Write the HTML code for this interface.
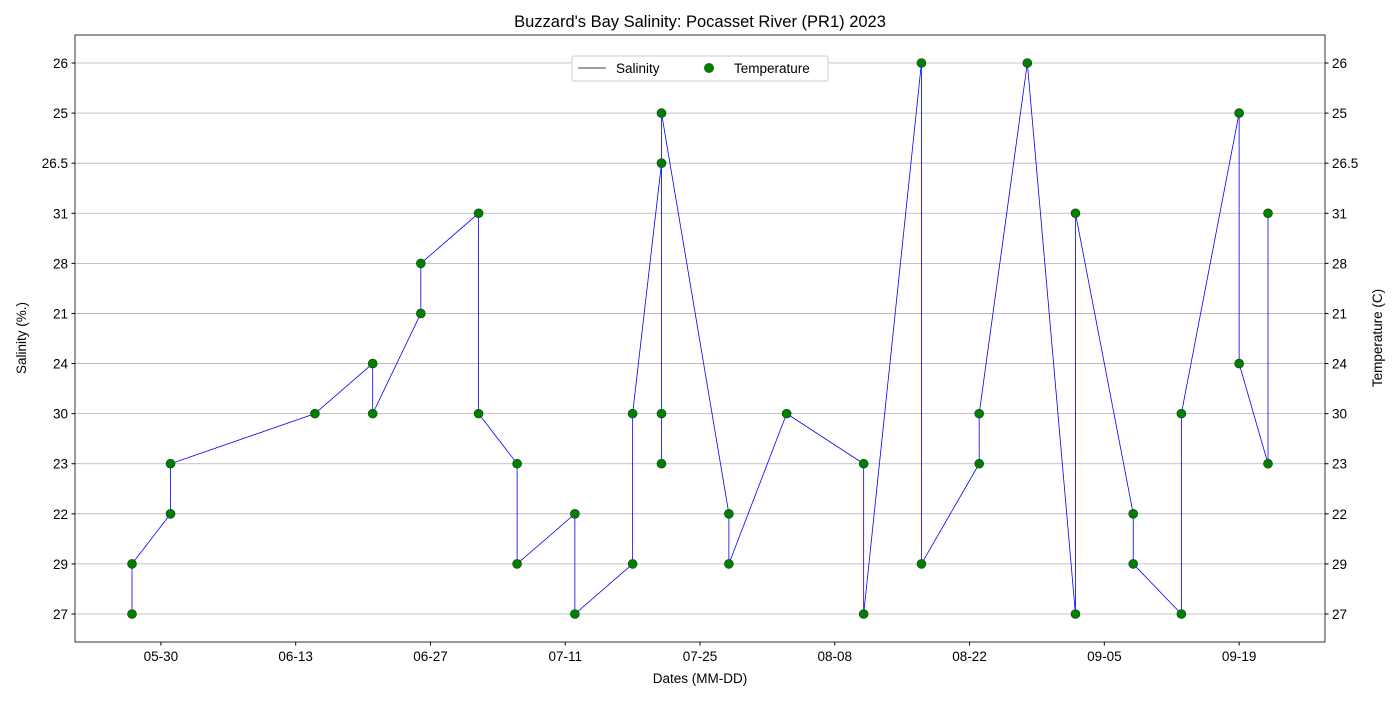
<!DOCTYPE html>
<html><head><meta charset="utf-8"><style>
body{margin:0;background:#fff}
svg{font-family:"Liberation Sans","DejaVu Sans",sans-serif}
</style></head><body>
<svg id="chart" width="1400" height="700">
<text x="700" y="27" font-size="16.5" text-anchor="middle">Buzzard's Bay Salinity: Pocasset River (PR1) 2023</text>
<g id="grid"></g><g id="lines"></g><g id="pts"></g><g id="axes"></g>
<text x="700" y="683" font-size="13.5" text-anchor="middle">Dates (MM-DD)</text>
<text transform="translate(26,338) rotate(-90)" font-size="13.5" text-anchor="middle">Salinity (%.)</text>
<text transform="translate(1382,338) rotate(-90)" font-size="13.5" text-anchor="middle">Temperature (C)</text>
<g>
<rect x="572" y="56" width="256" height="25" fill="#fff" stroke="#ccc" rx="2"/>
<line x1="578" y1="68" x2="606" y2="68" stroke="#000" stroke-width="0.8"/>
<text x="616" y="73" font-size="13.5">Salinity</text>
<circle cx="709" cy="68" r="5" fill="#008000"/>
<text x="734" y="73" font-size="13.5">Temperature</text>
</g>
</svg>
<script>
const categories=["27","29","22","23","30","24","21","28","31","26.5","25","26"];
const dates=["05-27","05-27","05-31","05-31","06-15","06-21","06-21","06-26","06-26","07-02","07-02","07-06","07-06","07-12","07-12","07-18","07-18","07-21","07-21","07-21","07-21","07-28","07-28","08-03","08-11","08-11","08-17","08-17","08-23","08-23","08-28","09-02","09-02","09-08","09-08","09-13","09-13","09-19","09-19","09-22","09-22"];
const values=["27","29","22","23","30","24","30","21","28","31","30","23","29","22","27","29","30","26.5","23","30","25","22","29","30","23","27","26","29","23","30","26","27","31","22","29","27","30","25","24","23","31"];
const xTicks=["05-30","06-13","06-27","07-11","07-25","08-08","08-22","09-05","09-19"];
const NS="http://www.w3.org/2000/svg";
const L=75,R=1325,T=35,B=642;
function dayOf(s){const[m,d]=s.split("-").map(Number);return new Date(2023,m-1,d).getTime()/864e5;}
const d0=dayOf("05-30");
function X(s){return 160.9+(dayOf(s)-d0)*9.627;}
function Y(v){return 614-categories.indexOf(v)*(551/11);}
function mk(p,tag,a){const e=document.createElementNS(NS,tag);for(const k in a)e.setAttribute(k,a[k]);p.appendChild(e);return e;}
const g=document.getElementById("grid"),ax=document.getElementById("axes"),ln=document.getElementById("lines"),pt=document.getElementById("pts");
categories.forEach(c=>{const y=Y(c);
mk(g,"line",{x1:L,x2:R,y1:y,y2:y,stroke:"#b0b0b0","stroke-width":0.8});
mk(ax,"line",{x1:L-3.5,x2:L,y1:y,y2:y,stroke:"#000"});
mk(ax,"line",{x1:R,x2:R+3.5,y1:y,y2:y,stroke:"#000"});
const t1=mk(ax,"text",{x:L-7,y:y+5,"font-size":13.5,"text-anchor":"end"});t1.textContent=c;


const t2=mk(ax,"text",{x:R+7,y:y+5,"font-size":13.5});t2.textContent=c;


});
xTicks.forEach(s=>{const x=X(s);
mk(ax,"line",{x1:x,x2:x,y1:B,y2:B+3.5,stroke:"#000"});
const t=mk(ax,"text",{x:x,y:B+19,"font-size":13.5,"text-anchor":"middle"});t.textContent=s;


});
mk(ax,"rect",{x:L,y:T,width:R-L,height:B-T,fill:"none",stroke:"#000","stroke-width":0.8});
const pl=mk(ln,"polyline",{points:dates.map((d,i)=>X(d)+","+Y(values[i])).join(" "),fill:"none",stroke:"#0000ff","stroke-width":0.8});


dates.forEach((d,i)=>{const c=mk(pt,"circle",{cx:X(d),cy:Y(values[i]),r:4.5,fill:"#008000",stroke:"#1a3a1a","stroke-width":0.6});


});
</script>
</body></html>
